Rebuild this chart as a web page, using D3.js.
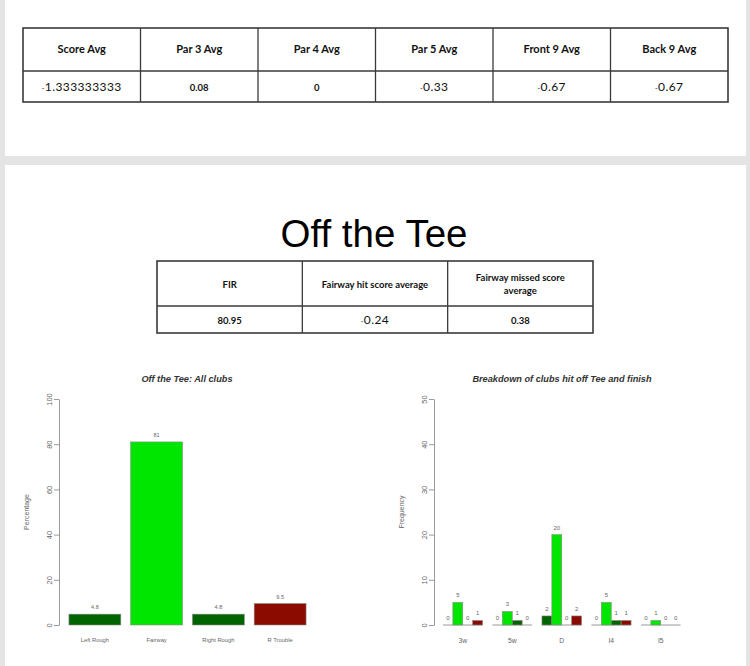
<!DOCTYPE html>
<html><head><meta charset="utf-8">
<script src="https://cdn.jsdelivr.net/npm/d3@7/dist/d3.min.js"></script>
<style>body{margin:0;background:#e4e4e4}svg{display:block}</style>
</head><body>
<script>
// ---- data ----
const summaryHeaders = ["Score Avg","Par 3 Avg","Par 4 Avg","Par 5 Avg","Front 9 Avg","Back 9 Avg"];
const summaryValues = ["-1.333333333","0.08","0","-0.33","-0.67","-0.67"];
const teeHeaders = ["FIR","Fairway hit score average","Fairway missed score average"];
const teeValues = ["80.95","-0.24","0.38"];
const outcomeCats = ["Left Rough","Fairway","Right Rough","R Trouble"];
const outcomePct = [4.8, 81, 4.8, 9.5];
const outcomeColors = ["#006400","#00e600","#006400","#8b0b00"];
const clubs = ["3w","5w","D","I4","I5"];
const leftRough = [0,0,2,0,0];
const fairway = [5,3,20,5,1];
const rightRough = [0,1,0,1,0];
const trouble = [1,0,2,1,0];
const pctTicks = [0,20,40,60,80,100];
const freqTicks = [0,10,20,30,40,50];

const W=750,H=666;
const svg=d3.select("body").append("svg").attr("width",W).attr("height",H);
svg.append("rect").attr("width",W).attr("height",H).attr("fill","#e4e4e4");
svg.append("rect").attr("x",5).attr("y",0).attr("width",741).attr("height",156).attr("fill","#fff");
svg.append("rect").attr("x",5).attr("y",165).attr("width",741).attr("height",501).attr("fill","#fff");

const FONT="Lato, 'Open Sans', sans-serif";
const SANS="'Liberation Sans', Arial, sans-serif";

function isBoldVal(v){return !v.startsWith("-");}

function table(x0,x1,yTop,yMid,yBot,headers){
  const col=d3.scaleBand().domain(d3.range(headers.length)).range([x0,x1]);
  const g=svg.append("g");
  g.append("rect").attr("x",x0).attr("y",yTop).attr("width",x1-x0).attr("height",yBot-yTop)
    .attr("fill","none").attr("stroke","#3a3a3a").attr("stroke-width",1.6);
  g.append("line").attr("x1",x0).attr("x2",x1).attr("y1",yMid).attr("y2",yMid).attr("stroke","#3a3a3a").attr("stroke-width",1.6);
  headers.forEach((h,i)=>{
    if(i>0) g.append("line").attr("x1",col(i)).attr("x2",col(i)).attr("y1",yTop).attr("y2",yBot).attr("stroke","#3a3a3a").attr("stroke-width",1.3);
  });
  return {g,col};
}
function valText(g,cx,y,v){
  const b=isBoldVal(v);
  const t=g.append("text").attr("x",cx).attr("y",y).attr("text-anchor","middle")
    .attr("font-family",FONT).attr("font-weight",b?"bold":"normal").attr("font-size",b?9.5:12)
    .attr("letter-spacing",b?0:0.4).attr("fill","#111");
  if(b){ t.text(v); }
  else {
    t.append("tspan").attr("font-size",7).attr("dy",-0).text("-");
    t.append("tspan").text(v.slice(1));
  }
}

// top table
{
  const {g,col}=table(23,728,28,71,102,summaryHeaders);
  summaryHeaders.forEach((h,i)=>{
    g.append("text").attr("x",col(i)+col.bandwidth()/2).attr("y",53).attr("text-anchor","middle")
      .attr("font-family",FONT).attr("font-weight","bold").attr("font-size",11).attr("fill","#111").text(h);
  });
  summaryValues.forEach((v,i)=>valText(g,col(i)+col.bandwidth()/2,91,v));
}

// title
svg.append("text").attr("x",374).attr("y",247).attr("text-anchor","middle")
  .attr("font-family",SANS).attr("font-size",38.5).attr("fill","#000").text("Off the Tee");

// second table
{
  const {g,col}=table(157,593,261,306,333,teeHeaders);
  teeHeaders.forEach((h,i)=>{
    const cx=col(i)+col.bandwidth()/2;
    const t=g.append("text").attr("text-anchor","middle").attr("font-family",FONT).attr("font-weight","bold")
      .attr("font-size",9.5).attr("fill","#111");
    if(h.length>26){
      const words=h.split(" ");
      t.append("tspan").attr("x",cx).attr("y",281).text(words.slice(0,3).join(" "));
      t.append("tspan").attr("x",cx).attr("y",294).text(words.slice(3).join(" "));
    } else {
      t.attr("x",cx).attr("y",288).text(h);
    }
  });
  teeValues.forEach((v,i)=>valText(g,col(i)+col.bandwidth()/2,324,v));
}

const AX="#9a9a9a", TX="#666";
function yAxis(g,y,ticks,xPos){
  const a=g.append("g").attr("transform",`translate(${xPos},0)`)
    .call(d3.axisLeft(y).tickValues(ticks).tickSize(5).tickSizeOuter(0));
  a.select(".domain").attr("stroke",AX);
  a.selectAll(".tick line").attr("stroke",AX);
  a.selectAll(".tick text").attr("x",null).attr("dy",null).attr("text-anchor","middle")
    .attr("transform","translate(-7,0) rotate(-90)").attr("font-family",SANS)
    .attr("font-size",7.5).attr("fill",TX);
}
function chartTitle(x,text){
  svg.append("text").attr("x",x).attr("y",382).attr("text-anchor","middle")
    .attr("font-family",SANS).attr("font-weight","bold").attr("font-style","italic")
    .attr("font-size",9.2).attr("fill","#333").text(text);
}
function yLabel(x,text){
  svg.append("text").attr("transform",`translate(${x},512) rotate(-90)`).attr("text-anchor","middle")
    .attr("font-family",SANS).attr("font-size",7).attr("fill",TX).text(text);
}

// left chart
{
  const g=svg.append("g");
  const y=d3.scaleLinear().domain([0,100]).range([625,399]);
  const x=d3.scaleBand().domain(outcomeCats).range([64,311]).paddingInner(0.16).paddingOuter(0.08);
  chartTitle(187,"Off the Tee: All clubs");
  yLabel(29,"Percentage");
  yAxis(g,y,pctTicks,59);
  g.selectAll("rect.bar").data(outcomeCats).join("rect").attr("class","bar")
    .attr("x",d=>x(d)).attr("width",x.bandwidth())
    .attr("y",(d,i)=>y(outcomePct[i])).attr("height",(d,i)=>y(0)-y(outcomePct[i]))
    .attr("fill",(d,i)=>outcomeColors[i]).attr("stroke","#8a8a8a").attr("stroke-width",0.6);
  g.selectAll("text.val").data(outcomeCats).join("text").attr("class","val")
    .attr("x",d=>x(d)+x.bandwidth()/2).attr("y",(d,i)=>y(outcomePct[i])-5).attr("text-anchor","middle")
    .attr("font-family",SANS).attr("font-size",5.5).attr("fill",TX)
    .text((d,i)=>outcomePct[i]);
  g.selectAll("text.cat").data(outcomeCats).join("text").attr("class","cat")
    .attr("x",d=>x(d)+x.bandwidth()/2).attr("y",642).attr("text-anchor","middle")
    .attr("font-family",SANS).attr("font-size",5.8).attr("fill",TX).text(d=>d);
}

// right chart
{
  const g=svg.append("g");
  const y=d3.scaleLinear().domain([0,50]).range([625,399]);
  const x0=d3.scaleBand().domain(clubs).range([438,685.5]).paddingInner(0.2).paddingOuter(0.1);
  const series=[leftRough,fairway,rightRough,trouble];
  const x1=d3.scaleBand().domain(d3.range(series.length)).range([0,x0.bandwidth()]);
  chartTitle(562,"Breakdown of clubs hit off Tee and finish");
  yLabel(404,"Frequency");
  yAxis(g,y,freqTicks,434);
  const cells=[];
  clubs.forEach((c,ci)=>series.forEach((s,si)=>cells.push({c,si,v:s[ci]})));
  g.selectAll("line.base").data(clubs).join("line").attr("class","base")
    .attr("x1",d=>x0(d)).attr("x2",d=>x0(d)+x0.bandwidth()).attr("y1",y(0)).attr("y2",y(0))
    .attr("stroke","#9a9a9a").attr("stroke-width",1);
  g.selectAll("rect.bar").data(cells.filter(d=>d.v>0)).join("rect").attr("class","bar")
    .attr("x",d=>x0(d.c)+x1(d.si)).attr("width",x1.bandwidth())
    .attr("y",d=>y(d.v)).attr("height",d=>y(0)-y(d.v))
    .attr("fill",d=>outcomeColors[d.si]).attr("stroke","#8a8a8a").attr("stroke-width",0.6);
  g.selectAll("text.val").data(cells).join("text").attr("class","val")
    .attr("x",d=>x0(d.c)+x1(d.si)+x1.bandwidth()/2).attr("y",d=>y(d.v)-5).attr("text-anchor","middle")
    .attr("font-family",SANS).attr("font-size",6).attr("fill",TX).text(d=>d.v);
  g.selectAll("text.cat").data(clubs).join("text").attr("class","cat")
    .attr("x",d=>x0(d)+x0.bandwidth()/2).attr("y",643).attr("text-anchor","middle")
    .attr("font-family",SANS).attr("font-size",6.8).attr("fill",TX).text(d=>d);
}
</script>
</body></html>
